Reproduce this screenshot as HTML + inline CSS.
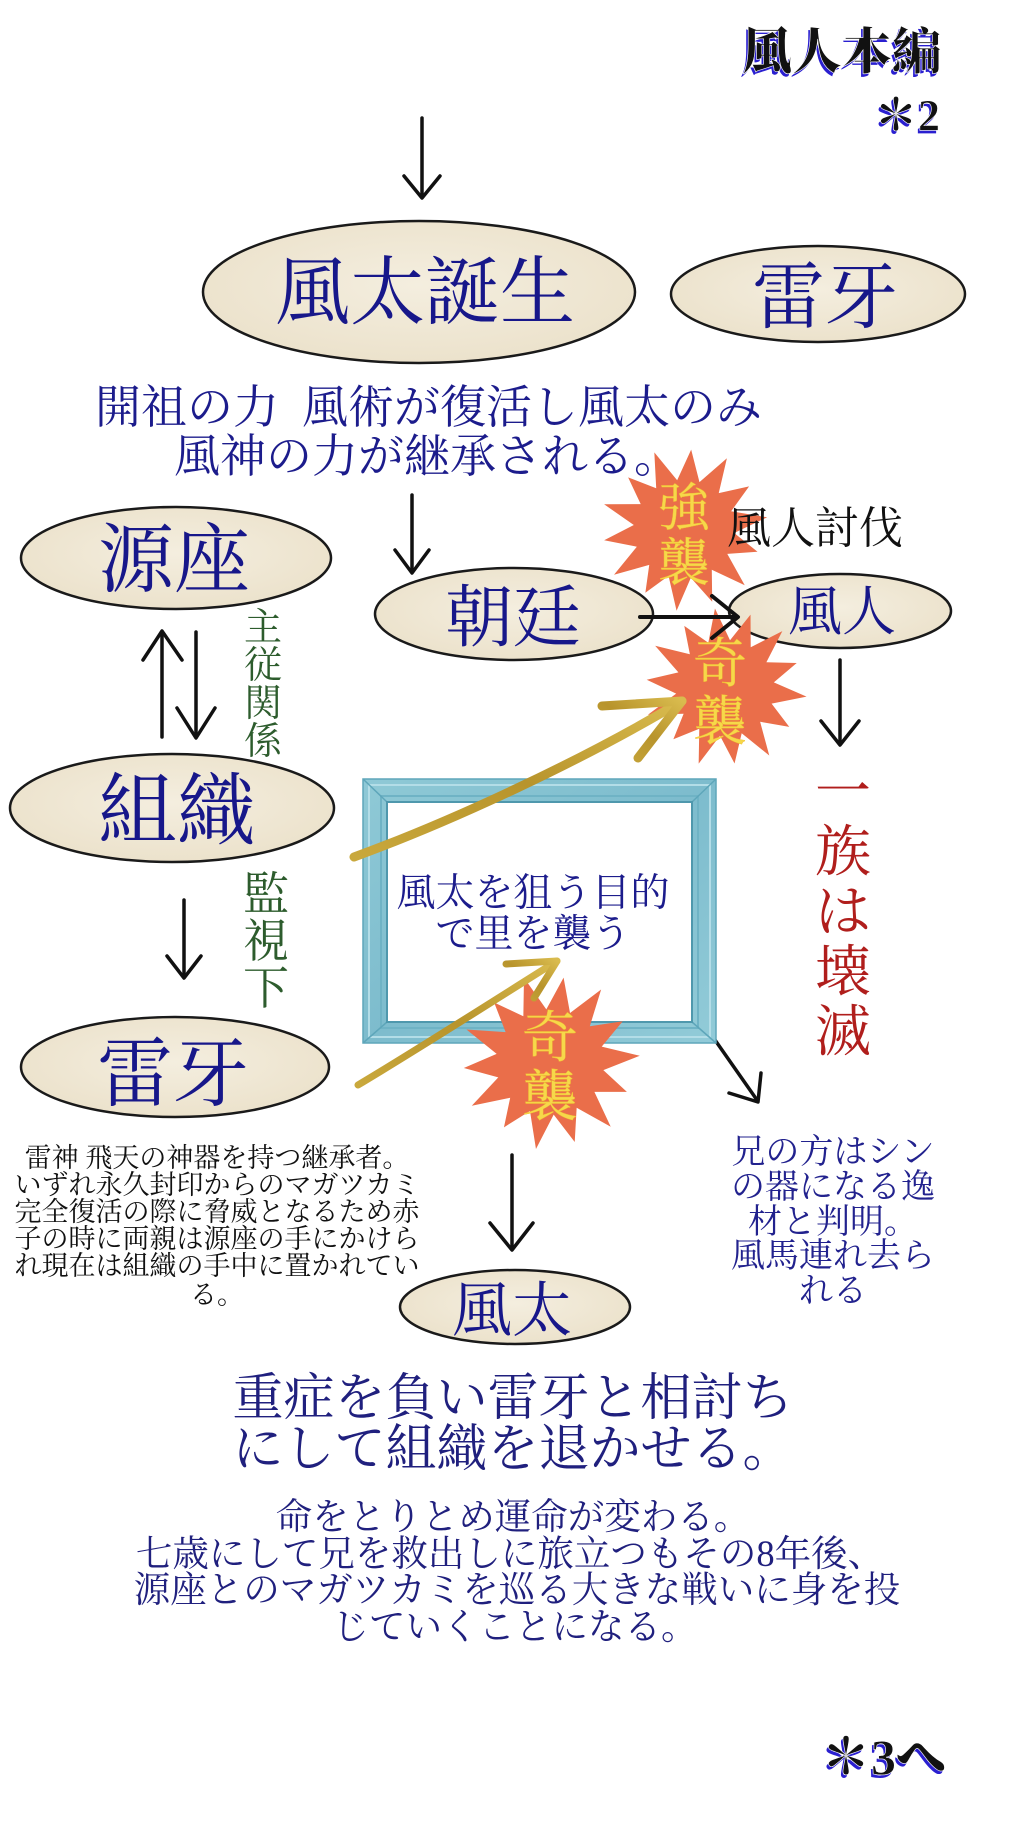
<!DOCTYPE html>
<html><head><meta charset="utf-8">
<style>
html,body{margin:0;padding:0;background:#fff;}
svg{display:block;}
text{font-family:"Liberation Serif","Noto Serif CJK SC",serif;}
</style></head>
<body>
<svg width="1024" height="1823" viewBox="0 0 1024 1823" xmlns="http://www.w3.org/2000/svg">
<defs>
<radialGradient id="eg" cx="50%" cy="45%" r="60%">
<stop offset="0" stop-color="#f4eedf"/><stop offset="1" stop-color="#ebe1ca"/>
</radialGradient>
<linearGradient id="gold" x1="0" y1="1" x2="1" y2="0">
<stop offset="0" stop-color="#c9a83c"/><stop offset="0.5" stop-color="#b8942c"/><stop offset="1" stop-color="#d9bb4e"/>
</linearGradient>
<linearGradient id="fr" x1="0" y1="0" x2="1" y2="1">
<stop offset="0" stop-color="#8fc9d6"/><stop offset="0.5" stop-color="#7dbccd"/><stop offset="1" stop-color="#92cbd8"/>
</linearGradient>
<polygon id="star" points="100,0 58.5,13.4 82.9,39.9 46.9,37.4 62.3,78.2 26,54 21.2,92.6 0,60 -22.3,97.5 -26,54 -56.1,70.4 -46.9,37.4 -90.1,43.4 -58.5,13.4 -96,0 -58.5,-13.4 -90.1,-43.4 -46.9,-37.4 -57.3,-71.9 -26,-54 -22.3,-97.5 0,-60 21.6,-94.6 26,-54 62.3,-78.2 46.9,-37.4 83.8,-40.4 58.5,-13.4"/>
</defs>

<!-- header -->
<g font-weight="900" font-size="50" text-anchor="middle">
<text x="840" y="72" fill="#2a1fd0">風人本編</text>
<text x="842" y="69" fill="#111" stroke="#fff" stroke-width="0.6">風人本編</text>
</g>
<g font-weight="900" font-size="44" text-anchor="end">
<text x="938" y="133" fill="#2a1fd0">＊2</text>
<text x="940" y="130" fill="#111" stroke="#fff" stroke-width="0.6">＊2</text>
</g>

<!-- black arrows -->
<g stroke="#111" stroke-width="3.5" fill="none" stroke-linecap="round" stroke-linejoin="round">
<line x1="422" y1="118" x2="422" y2="197"/><polyline points="404,176 422,198 440,176"/>
<line x1="412" y1="495" x2="412" y2="572"/><polyline points="395,550 412,573 429,550"/>
<line x1="162" y1="632" x2="162" y2="737"/><polyline points="143,660 162,631 182,660"/>
<line x1="196" y1="632" x2="196" y2="737"/><polyline points="177,708 196,738 215,708"/>
<line x1="840" y1="660" x2="840" y2="744"/><polyline points="821,721 840,745 859,721"/>
<line x1="184" y1="900" x2="184" y2="977"/><polyline points="167,956 184,978 201,956"/>
<line x1="512" y1="1155" x2="512" y2="1249"/><polyline points="490,1223 512,1250 533,1223"/>
<line x1="715" y1="1040" x2="757" y2="1100"/><polyline points="729,1093 758,1102 761,1073"/>
</g>

<!-- ellipses -->
<g fill="url(#eg)" stroke="#1a1a1a" stroke-width="2.5">
<ellipse cx="419" cy="292" rx="216" ry="71"/>
<ellipse cx="818" cy="294" rx="147" ry="48"/>
<ellipse cx="176" cy="558" rx="155" ry="51"/>
<ellipse cx="514" cy="614" rx="139" ry="46"/>
<ellipse cx="840" cy="611" rx="111" ry="37"/>
<ellipse cx="172" cy="808" rx="162" ry="54"/>
<ellipse cx="175" cy="1067" rx="154" ry="50"/>
<ellipse cx="515" cy="1307" rx="115" ry="37"/>
</g>

<!-- frame -->
<rect x="363" y="779" width="353" height="264" fill="url(#fr)" stroke="#5ea6ba" stroke-width="1.5"/>
<rect x="369" y="785" width="341" height="252" fill="none" stroke="#b3dde7" stroke-width="2"/>
<rect x="381" y="796" width="317" height="232" fill="none" stroke="#6fb3c5" stroke-width="2"/>
<g stroke="#5ea6ba" stroke-width="1.5">
<line x1="363" y1="779" x2="387" y2="802"/><line x1="716" y1="779" x2="692" y2="802"/>
<line x1="363" y1="1043" x2="387" y2="1022"/><line x1="716" y1="1043" x2="692" y2="1022"/>
</g>
<rect x="387" y="802" width="305" height="220" fill="#fff" stroke="#4f98ad" stroke-width="2"/>

<!-- stars -->
<g fill="#ea6e4a">
<use href="#star" transform="translate(684,529) rotate(-8) scale(0.84,0.82)"/>
<use href="#star" transform="translate(725,688) rotate(6) scale(0.82,0.8)"/>
<use href="#star" transform="translate(550,1062) rotate(-4) scale(0.9,0.88)"/>
</g>

<!-- arrow 朝廷 -> 風人 -->
<g stroke="#111" stroke-width="4" fill="none" stroke-linecap="round" stroke-linejoin="round">
<line x1="640" y1="617" x2="736" y2="617"/><polyline points="712,596 738,617 712,638"/>
</g>

<!-- gold arrows -->
<g stroke="url(#gold)" fill="none" stroke-linecap="round" stroke-linejoin="round">
<path d="M354,857 C450,822 580,762 682,701" stroke-width="9"/>
<polyline points="602,706 682,701 638,758" stroke-width="9"/>
<path d="M358,1085 C420,1048 490,1003 557,961" stroke-width="7"/>
<polyline points="506,964 557,961 534,998" stroke-width="7"/>
</g>

<!-- node texts -->
<g fill="#17178a" text-anchor="middle">
<text x="425" y="318" font-size="75">風太誕生</text>
<text x="825" y="322" font-size="73">雷牙</text>
<text x="174" y="586" font-size="76">源座</text>
<text x="513" y="641" font-size="68">朝廷</text>
<text x="842" y="630" font-size="54">風人</text>
<text x="177" y="838" font-size="79">組織</text>
<text x="173" y="1100" font-size="76">雷牙</text>
<text x="512" y="1331" font-size="60">風太</text>
</g>

<g fill="#1c1c8c" font-size="46">
<text x="95" y="423">開祖の力&#8194;風術が復活し風太のみ</text>
<text x="174" y="472">風神の力が継承される。</text>
</g>

<text x="727" y="543" font-size="44" fill="#111">風人討伐</text>

<!-- star texts -->
<g fill="#f6d84a" text-anchor="middle" stroke="#f0c030" stroke-width="0.4">
<text x="684" y="526" font-size="52">強</text>
<text x="684" y="581" font-size="52">襲</text>
<text x="720" y="682" font-size="54">奇</text>
<text x="720" y="740" font-size="54">襲</text>
<text x="550" y="1057" font-size="56">奇</text>
<text x="550" y="1116" font-size="56">襲</text>
</g>

<!-- green vertical -->
<g fill="#2d5c2d" text-anchor="middle">
<text x="263" y="640" font-size="38">主</text>
<text x="263" y="678" font-size="38">従</text>
<text x="263" y="716" font-size="38">関</text>
<text x="263" y="754" font-size="38">係</text>
<text x="266" y="910" font-size="46">監</text>
<text x="266" y="957" font-size="46">視</text>
<text x="266" y="1004" font-size="46">下</text>
</g>

<!-- red vertical -->
<g fill="#b01e1c" text-anchor="middle" font-size="56">
<text x="843" y="811">一</text>
<text x="843" y="871">族</text>
<text x="843" y="931">は</text>
<text x="843" y="991">壊</text>
<text x="843" y="1051">滅</text>
</g>

<!-- frame text -->
<g fill="#1c1c8c" text-anchor="middle" font-size="39">
<text x="533" y="906">風太を狙う目的</text>
<text x="533" y="947">で里を襲う</text>
</g>

<!-- left paragraph -->
<g fill="#111" text-anchor="middle" font-size="27">
<text x="217" y="1167">雷神 飛天の神器を持つ継承者。</text>
<text x="217" y="1194">いずれ永久封印からのマガツカミ</text>
<text x="217" y="1221">完全復活の際に脅威となるため赤</text>
<text x="217" y="1248">子の時に両親は源座の手にかけら</text>
<text x="217" y="1275">れ現在は組織の手中に置かれてい</text>
<text x="217" y="1304">る。</text>
</g>

<!-- right paragraph -->
<g fill="#22228e" text-anchor="middle" font-size="34">
<text x="833" y="1163">兄の方はシン</text>
<text x="833" y="1198">の器になる逸</text>
<text x="833" y="1233">材と判明。</text>
<text x="833" y="1267">風馬連れ去ら</text>
<text x="833" y="1302">れる</text>
</g>

<!-- bottom text -->
<g fill="#20207e" text-anchor="middle">
<text x="513" y="1415" font-size="51">重症を負い雷牙と相討ち</text>
<text x="513" y="1466" font-size="51">にして組織を退かせる。</text>
<text x="513" y="1529" font-size="36.5">命をとりとめ運命が変わる。</text>
<text x="510" y="1566" font-size="36.5">七歳にして兄を救出しに旅立つもその8年後、</text>
<text x="517" y="1602" font-size="36.5">源座とのマガツカミを巡る大きな戦いに身を投</text>
<text x="515" y="1639" font-size="36.5">じていくことになる。</text>
</g>

<!-- footer -->
<g font-weight="900" font-size="50" text-anchor="end">
<text x="944" y="1777" fill="#2a1fd0">＊3へ</text>
<text x="946" y="1774" fill="#111" stroke="#fff" stroke-width="0.6">＊3へ</text>
</g>
</svg>
</body></html>
